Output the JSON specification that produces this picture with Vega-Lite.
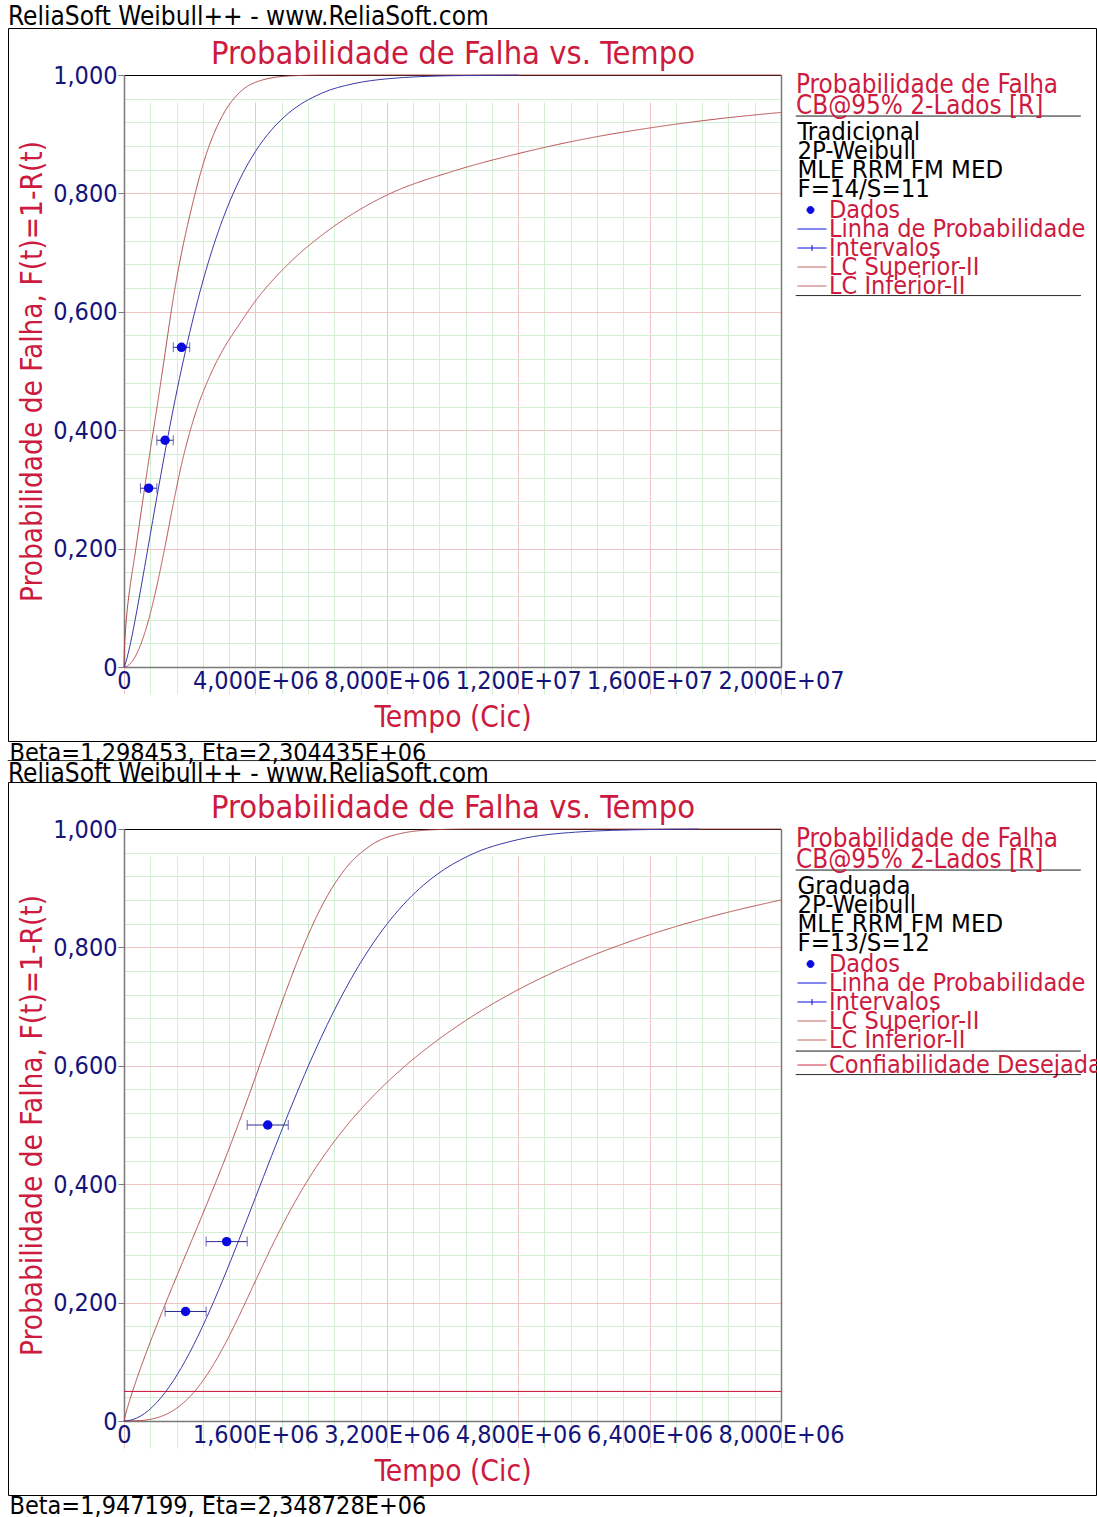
{
"$schema": "https://vega.github.io/schema/vega-lite/v6.json",
"padding": {"left": 7, "top": 3, "right": 0, "bottom": 0},
"background": "white",
"config": {
  "view": {"stroke": "#000000", "strokeWidth": 1},
  "font": "DejaVu Sans Condensed",
  "axis": {"labelFont": "DejaVu Sans Condensed", "titleFont": "DejaVu Sans Condensed", "titleFontWeight": "normal"},
  "legend": {"labelFont": "DejaVu Sans Condensed", "titleFont": "DejaVu Sans Condensed"},
  "title": {"font": "DejaVu Sans Condensed", "fontWeight": "normal", "fontSize": 26, "color": "#000000"}
},
"datasets": {
  "p1_bounds": [
    {"series": "LC Superior-II", "t": 0, "F": 0},
    {"series": "LC Superior-II", "t": 5000, "F": 0.0171},
    {"series": "LC Superior-II", "t": 20000, "F": 0.0386},
    {"series": "LC Superior-II", "t": 50000, "F": 0.0656},
    {"series": "LC Superior-II", "t": 100000, "F": 0.0969},
    {"series": "LC Superior-II", "t": 200000, "F": 0.142},
    {"series": "LC Superior-II", "t": 300000, "F": 0.1776},
    {"series": "LC Superior-II", "t": 500000, "F": 0.2537},
    {"series": "LC Superior-II", "t": 750000, "F": 0.348},
    {"series": "LC Superior-II", "t": 1000000, "F": 0.437},
    {"series": "LC Superior-II", "t": 1250000, "F": 0.53},
    {"series": "LC Superior-II", "t": 1500000, "F": 0.623},
    {"series": "LC Superior-II", "t": 1750000, "F": 0.699},
    {"series": "LC Superior-II", "t": 2000000, "F": 0.762},
    {"series": "LC Superior-II", "t": 2500000, "F": 0.8655},
    {"series": "LC Superior-II", "t": 3000000, "F": 0.9316},
    {"series": "LC Superior-II", "t": 3500000, "F": 0.9694},
    {"series": "LC Superior-II", "t": 4000000, "F": 0.9876},
    {"series": "LC Superior-II", "t": 5000000, "F": 0.9983},
    {"series": "LC Superior-II", "t": 6000000, "F": 0.9998},
    {"series": "LC Superior-II", "t": 8000000, "F": 1},
    {"series": "LC Superior-II", "t": 20000000, "F": 1},
    {"series": "LC Inferior-II", "t": 0, "F": 0},
    {"series": "LC Inferior-II", "t": 100000, "F": 0.0016},
    {"series": "LC Inferior-II", "t": 250000, "F": 0.0095},
    {"series": "LC Inferior-II", "t": 500000, "F": 0.0368},
    {"series": "LC Inferior-II", "t": 750000, "F": 0.08},
    {"series": "LC Inferior-II", "t": 1000000, "F": 0.137},
    {"series": "LC Inferior-II", "t": 1250000, "F": 0.204},
    {"series": "LC Inferior-II", "t": 1500000, "F": 0.2756},
    {"series": "LC Inferior-II", "t": 1750000, "F": 0.342},
    {"series": "LC Inferior-II", "t": 2000000, "F": 0.396},
    {"series": "LC Inferior-II", "t": 2250000, "F": 0.441},
    {"series": "LC Inferior-II", "t": 2500000, "F": 0.477},
    {"series": "LC Inferior-II", "t": 2750000, "F": 0.508},
    {"series": "LC Inferior-II", "t": 3000000, "F": 0.5345},
    {"series": "LC Inferior-II", "t": 3500000, "F": 0.578},
    {"series": "LC Inferior-II", "t": 4000000, "F": 0.6181},
    {"series": "LC Inferior-II", "t": 5000000, "F": 0.6806},
    {"series": "LC Inferior-II", "t": 6000000, "F": 0.7284},
    {"series": "LC Inferior-II", "t": 7000000, "F": 0.7667},
    {"series": "LC Inferior-II", "t": 8000000, "F": 0.7971},
    {"series": "LC Inferior-II", "t": 10000000, "F": 0.8372},
    {"series": "LC Inferior-II", "t": 12000000, "F": 0.8672},
    {"series": "LC Inferior-II", "t": 14000000, "F": 0.8917},
    {"series": "LC Inferior-II", "t": 16000000, "F": 0.9105},
    {"series": "LC Inferior-II", "t": 18000000, "F": 0.9254},
    {"series": "LC Inferior-II", "t": 20000000, "F": 0.9368}
  ],
  "p1_linha": [
    {"t": 0, "F": 0}, {"t": 50000, "F": 0.0069}, {"t": 100000, "F": 0.0169}, {"t": 200000, "F": 0.041},
    {"t": 300000, "F": 0.0683}, {"t": 500000, "F": 0.1285}, {"t": 750000, "F": 0.2078}, {"t": 1000000, "F": 0.287},
    {"t": 1250000, "F": 0.3636}, {"t": 1500000, "F": 0.4362}, {"t": 1750000, "F": 0.5033}, {"t": 2000000, "F": 0.5648},
    {"t": 2500000, "F": 0.671}, {"t": 3000000, "F": 0.7555}, {"t": 3500000, "F": 0.821}, {"t": 4000000, "F": 0.8708},
    {"t": 4500000, "F": 0.9079}, {"t": 5000000, "F": 0.9351}, {"t": 6000000, "F": 0.9688}, {"t": 7000000, "F": 0.9855},
    {"t": 8000000, "F": 0.9935}, {"t": 10000000, "F": 0.9988}, {"t": 12000000, "F": 0.9998}
  ],
  "p1_dados": [
    {"t": 750000, "F": 0.302, "lo": 500000, "hi": 1000000},
    {"t": 1250000, "F": 0.383, "lo": 1000000, "hi": 1500000},
    {"t": 1750000, "F": 0.54, "lo": 1500000, "hi": 2000000}
  ],
  "p2_bounds": [
    {"series": "LC Superior-II", "t": 0, "F": 0},
    {"series": "LC Superior-II", "t": 20000, "F": 0.0116},
    {"series": "LC Superior-II", "t": 50000, "F": 0.0261},
    {"series": "LC Superior-II", "t": 100000, "F": 0.0482},
    {"series": "LC Superior-II", "t": 200000, "F": 0.0887},
    {"series": "LC Superior-II", "t": 300000, "F": 0.1262},
    {"series": "LC Superior-II", "t": 400000, "F": 0.162},
    {"series": "LC Superior-II", "t": 600000, "F": 0.2305},
    {"series": "LC Superior-II", "t": 800000, "F": 0.2969},
    {"series": "LC Superior-II", "t": 1000000, "F": 0.3634},
    {"series": "LC Superior-II", "t": 1200000, "F": 0.432},
    {"series": "LC Superior-II", "t": 1400000, "F": 0.5043},
    {"series": "LC Superior-II", "t": 1600000, "F": 0.5806},
    {"series": "LC Superior-II", "t": 1800000, "F": 0.6592},
    {"series": "LC Superior-II", "t": 2000000, "F": 0.7363},
    {"series": "LC Superior-II", "t": 2200000, "F": 0.8072},
    {"series": "LC Superior-II", "t": 2400000, "F": 0.8675},
    {"series": "LC Superior-II", "t": 2700000, "F": 0.9336},
    {"series": "LC Superior-II", "t": 3000000, "F": 0.9718},
    {"series": "LC Superior-II", "t": 3400000, "F": 0.9933},
    {"series": "LC Superior-II", "t": 3800000, "F": 0.9989},
    {"series": "LC Superior-II", "t": 4200000, "F": 0.9999},
    {"series": "LC Superior-II", "t": 5000000, "F": 1},
    {"series": "LC Superior-II", "t": 8000000, "F": 1},
    {"series": "LC Inferior-II", "t": 0, "F": 0},
    {"series": "LC Inferior-II", "t": 200000, "F": 0.0007},
    {"series": "LC Inferior-II", "t": 300000, "F": 0.0023},
    {"series": "LC Inferior-II", "t": 400000, "F": 0.0054},
    {"series": "LC Inferior-II", "t": 600000, "F": 0.0178},
    {"series": "LC Inferior-II", "t": 800000, "F": 0.0408},
    {"series": "LC Inferior-II", "t": 1000000, "F": 0.0758},
    {"series": "LC Inferior-II", "t": 1200000, "F": 0.1222},
    {"series": "LC Inferior-II", "t": 1400000, "F": 0.1772},
    {"series": "LC Inferior-II", "t": 1600000, "F": 0.2364},
    {"series": "LC Inferior-II", "t": 1800000, "F": 0.295},
    {"series": "LC Inferior-II", "t": 2000000, "F": 0.3494},
    {"series": "LC Inferior-II", "t": 2200000, "F": 0.3982},
    {"series": "LC Inferior-II", "t": 2400000, "F": 0.4413},
    {"series": "LC Inferior-II", "t": 2700000, "F": 0.4969},
    {"series": "LC Inferior-II", "t": 3000000, "F": 0.5439},
    {"series": "LC Inferior-II", "t": 3400000, "F": 0.5969},
    {"series": "LC Inferior-II", "t": 3800000, "F": 0.6415},
    {"series": "LC Inferior-II", "t": 4200000, "F": 0.68},
    {"series": "LC Inferior-II", "t": 4800000, "F": 0.7286},
    {"series": "LC Inferior-II", "t": 5500000, "F": 0.7746},
    {"series": "LC Inferior-II", "t": 6400000, "F": 0.8213},
    {"series": "LC Inferior-II", "t": 7200000, "F": 0.8539},
    {"series": "LC Inferior-II", "t": 8000000, "F": 0.8801},
    {"series": "Confiabilidade Desejada", "t": 0, "F": 0.05},
    {"series": "Confiabilidade Desejada", "t": 8000000, "F": 0.05}
  ],
  "p2_linha": [
    {"t": 0, "F": 0}, {"t": 100000, "F": 0.0021}, {"t": 200000, "F": 0.0082}, {"t": 300000, "F": 0.018},
    {"t": 400000, "F": 0.0314}, {"t": 600000, "F": 0.0678}, {"t": 800000, "F": 0.1156}, {"t": 1000000, "F": 0.1728},
    {"t": 1200000, "F": 0.237}, {"t": 1400000, "F": 0.306}, {"t": 1600000, "F": 0.3773}, {"t": 1800000, "F": 0.4488},
    {"t": 2000000, "F": 0.5187}, {"t": 2200000, "F": 0.5855}, {"t": 2400000, "F": 0.6477}, {"t": 2700000, "F": 0.7307},
    {"t": 3000000, "F": 0.8002}, {"t": 3400000, "F": 0.872}, {"t": 3800000, "F": 0.9221}, {"t": 4200000, "F": 0.955},
    {"t": 4800000, "F": 0.9821}, {"t": 5500000, "F": 0.9947}, {"t": 6400000, "F": 0.9991}, {"t": 7000000, "F": 0.9998}
  ],
  "p2_dados": [
    {"t": 750000, "F": 0.185, "lo": 500000, "hi": 1000000},
    {"t": 1250000, "F": 0.303, "lo": 1000000, "hi": 1500000},
    {"t": 1750000, "F": 0.5, "lo": 1500000, "hi": 2000000}
  ]
},
"spacing": -6,
"resolve": {"scale": {"color": "independent", "strokeDash": "independent", "opacity": "independent", "strokeWidth": "independent"}, "legend": {"color": "independent", "strokeDash": "independent", "opacity": "independent", "strokeWidth": "independent"}},
"vconcat": [
  {
    "width": 1088, "height": 713,
    "title": {"text": "ReliaSoft Weibull++ - www.ReliaSoft.com", "anchor": "start", "frame": "group", "offset": -2},
    "resolve": {"axis": {"x": "independent", "y": "independent"}},
    "layer": [
      {
        "data": {"name": "p1_bounds"},
        "mark": {"type": "line", "interpolate": "monotone", "strokeWidth": 1},
        "encoding": {
          "x": {"field": "t", "type": "quantitative", "scale": {"domain": [0, 20000000], "range": [116, 773], "nice": false, "zero": false},
                "axis": {"orient": "top", "offset": -47, "domain": true, "domainColor": "#000000", "domainWidth": 1, "ticks": false, "labels": false, "grid": false,
                         "title": "Probabilidade de Falha vs. Tempo", "titleColor": "#CC1B3F", "titleFontSize": 32.4, "titlePadding": 5}},
          "y": {"field": "F", "type": "quantitative", "scale": {"domain": [0, 1], "range": [639, 47], "nice": false, "zero": false},
                "axis": {"orient": "right", "offset": -315, "domain": true, "domainColor": "#7A7A7A", "domainWidth": 1.5, "ticks": false, "labels": false, "grid": false, "title": null}},
          "color": {"field": "series", "type": "nominal",
                    "scale": {"domain": ["Dados", "Linha de Probabilidade", "Intervalos", "LC Superior-II", "LC Inferior-II"],
                              "range": ["#0A0AE0", "#3A3AA8", "#2C2C90", "#B04848", "#B85050"]},
                    "legend": {"orient": "none", "legendX": 788, "legendY": 169.5, "direction": "vertical", "title": null, "padding": 0, "values": ["Dados"],
                               "labelExpr": "['Dados', 'Linha de Probabilidade', 'Intervalos', 'LC Superior-II', 'LC Inferior-II']",
                               "labelFontSize": 25, "labelColor": "#CC1B3F", "labelLimit": 600, "labelOffset": 8,
                               "symbolSize": 4, "symbolStrokeWidth": 1,
                               "encode": {"labels": {"update": {"lineHeight": {"value": 19}}},
                                          "symbols": {"update": {
                                 "shape": {"value": "M-1.5,0a3.5,3.5 0 1,0 7,0a3.5,3.5 0 1,0 -7,0ZM-11,19H18M-11,38H18M3.5,35V41"},
                                 "size": {"value": 4}, "fill": {"value": "#0A0AE0"}, "stroke": {"value": "#2C2C90"}, "strokeWidth": {"value": 1}, "opacity": {"value": 1}}}}}},
          "strokeDash": {"datum": "LC", "type": "nominal", "scale": {"domain": ["LC"], "range": [[1, 0]]},
                    "legend": {"orient": "none", "legendX": 788, "legendY": 169.5, "direction": "vertical", "title": null, "padding": 0,
                               "labelExpr": "['Dados', 'Linha de Probabilidade', 'Intervalos', 'LC Superior-II', 'LC Inferior-II']",
                               "labelFontSize": 25, "labelColor": "#CC1B3F", "labelOpacity": 0, "labelLimit": 600, "labelOffset": 8,
                               "symbolSize": 4, "symbolStrokeWidth": 1,
                               "encode": {"labels": {"update": {"lineHeight": {"value": 19}, "opacity": {"value": 0}}},
                                          "symbols": {"update": {
                                 "shape": {"value": "M-11,57H18M-11,76H18"},
                                 "size": {"value": 4}, "fill": {"value": "transparent"}, "stroke": {"value": "#B85050"}, "strokeWidth": {"value": 1}, "strokeDash": {"value": [1, 0]}, "opacity": {"value": 1}}}}}},
          "opacity": {"datum": "Tradicional", "type": "nominal", "scale": {"domain": ["Tradicional"], "range": [1, 1]},
                    "legend": {"orient": "none", "legendX": 788, "legendY": 45, "direction": "vertical", "padding": 0,
                               "title": ["Probabilidade de Falha", "CB@95% 2-Lados [R]"], "titleColor": "#CC1B3F", "titleFontSize": 25.8, "titleFontWeight": "normal",
                               "titleLineHeight": 20.5, "titlePadding": 0, "titleLimit": 600,
                               "labelExpr": "['Tradicional', '2P-Weibull', 'MLE RRM FM MED', 'F=14/S=11']",
                               "labelColor": "#000000", "labelFontSize": 25.5, "labelLimit": 600, "labelOffset": -24,
                               "symbolSize": 4, "symbolStrokeWidth": 1,
                               "encode": {"labels": {"update": {"lineHeight": {"value": 19}}},
                                          "symbols": {"update": {
                                 "shape": {"value": "M-13,-16H272M-13,163.5H272M-801,628.5H287"},
                                 "size": {"value": 4}, "fill": {"value": "transparent"}, "stroke": {"value": "#000000"}, "strokeWidth": {"value": 1}, "strokeDash": {"value": [1, 0]}, "opacity": {"value": 1}}}}}}
        }
      },
      {
        "data": {"name": "p1_linha"},
        "mark": {"type": "line", "interpolate": "monotone", "color": "#3A3AA8", "strokeWidth": 1},
        "encoding": {
          "x": {"field": "t", "type": "quantitative",
                "axis": {"orient": "bottom", "offset": 0, "domain": false, "ticks": false, "labels": false, "grid": false,
                         "title": "Beta=1,298453, Eta=2,304435E+06", "titleX": 1, "titleY": -1, "titleAlign": "left", "titleBaseline": "top", "titleAngle": 0,
                         "titleColor": "#000000", "titleFontSize": 25}},
          "y": {"field": "F", "type": "quantitative", "axis": null}
        }
      },
      {
        "data": {"name": "p1_dados"},
        "mark": {"type": "errorbar", "ticks": {"size": 10}, "color": "#2C2C90", "thickness": 1},
        "encoding": {
          "x": {"field": "lo", "type": "quantitative", "axis": null},
          "x2": {"field": "hi"},
          "y": {"field": "F", "type": "quantitative", "axis": null}
        }
      },
      {
        "data": {"name": "p1_dados"},
        "mark": {"type": "point", "filled": true, "size": 90, "color": "#0A0AE0", "opacity": 1},
        "encoding": {
          "x": {"field": "t", "type": "quantitative",
                "axis": {"orient": "bottom", "offset": -74,
                         "values": [0,800000,1600000,2400000,3200000,4000000,4800000,5600000,6400000,7200000,8000000,8800000,9600000,10400000,11200000,12000000,12800000,13600000,14400000,15200000,16000000,16800000,17600000,18400000,19200000,20000000],
                         "grid": true, "gridWidth": 1,
                         "gridColor": {"condition": {"test": "datum.value % 4000000 === 0", "value": "#F0C4C4"}, "value": "#D4F0D4"},
                         "domainColor": "#7A7A7A", "domainWidth": 1.5, "ticks": false,
                         "labelExpr": "datum.value % 4000000 !== 0 ? '' : datum.value === 0 ? '0' : replace(format(datum.value / pow(10, floor(log(datum.value) / LN10 + 1e-9)), '.3f'), '.', ',') + 'E+' + format(floor(log(datum.value) / LN10 + 1e-9), '02d')",
                         "labelFontSize": 25, "labelColor": "#14147A", "labelPadding": 1, "labelFlush": false, "labelOverlap": false, "labelBound": false,
                         "title": "Tempo (Cic)", "titleColor": "#CC1B3F", "titleFontSize": 29.7, "titlePadding": 10}},
          "y": {"field": "F", "type": "quantitative",
                "axis": {"orient": "left", "offset": -116,
                         "values": [0,0.04,0.08,0.12,0.16,0.2,0.24,0.28,0.32,0.36,0.4,0.44,0.48,0.52,0.56,0.6,0.64,0.68,0.72,0.76,0.8,0.84,0.88,0.92,0.96,1],
                         "grid": true, "gridWidth": 1,
                         "gridColor": {"condition": {"test": "abs(datum.value * 5 - round(datum.value * 5)) < 0.000001", "value": "#F0C4C4"}, "value": "#D4F0D4"},
                         "domainColor": "#7A7A7A", "domainWidth": 1.5, "ticks": true, "tickSize": 6, "tickColor": "#7A7A7A",
                         "tickOpacity": {"condition": {"test": "abs(datum.value * 5 - round(datum.value * 5)) < 0.000001", "value": 1}, "value": 0},
                         "labelExpr": "abs(datum.value * 5 - round(datum.value * 5)) > 0.000001 ? '' : datum.value === 0 ? '0' : replace(format(datum.value, '.3f'), '.', ',')",
                         "labelFontSize": 25, "labelColor": "#14147A", "labelPadding": 1, "labelOverlap": false,
                         "title": "Probabilidade de Falha, F(t)=1-R(t)", "titleColor": "#CC1B3F", "titleFontSize": 29.5, "titlePadding": 5}}
        }
      }
    ]
  },
  {
    "width": 1088, "height": 713,
    "title": {"text": "ReliaSoft Weibull++ - www.ReliaSoft.com", "anchor": "start", "frame": "group", "offset": -5},
    "resolve": {"axis": {"x": "independent", "y": "independent"}},
    "layer": [
      {
        "data": {"name": "p2_bounds"},
        "mark": {"type": "line", "interpolate": "monotone", "strokeWidth": 1},
        "encoding": {
          "x": {"field": "t", "type": "quantitative", "scale": {"domain": [0, 8000000], "range": [116, 773], "nice": false, "zero": false},
                "axis": {"orient": "top", "offset": -47, "domain": true, "domainColor": "#000000", "domainWidth": 1, "ticks": false, "labels": false, "grid": false,
                         "title": "Probabilidade de Falha vs. Tempo", "titleColor": "#CC1B3F", "titleFontSize": 32.4, "titlePadding": 5}},
          "y": {"field": "F", "type": "quantitative", "scale": {"domain": [0, 1], "range": [639, 47], "nice": false, "zero": false},
                "axis": {"orient": "right", "offset": -315, "domain": true, "domainColor": "#7A7A7A", "domainWidth": 1.5, "ticks": false, "labels": false, "grid": false, "title": null}},
          "color": {"field": "series", "type": "nominal",
                    "scale": {"domain": ["Dados", "Linha de Probabilidade", "Intervalos", "LC Superior-II", "LC Inferior-II", "Confiabilidade Desejada"],
                              "range": ["#0A0AE0", "#3A3AA8", "#2C2C90", "#B04848", "#B85050", "#C8102E"]},
                    "legend": {"orient": "none", "legendX": 788, "legendY": 169.5, "direction": "vertical", "title": null, "padding": 0, "values": ["Dados"],
                               "labelExpr": "['Dados', 'Linha de Probabilidade', 'Intervalos', 'LC Superior-II', 'LC Inferior-II']",
                               "labelFontSize": 25, "labelColor": "#CC1B3F", "labelLimit": 600, "labelOffset": 8,
                               "symbolSize": 4, "symbolStrokeWidth": 1,
                               "encode": {"labels": {"update": {"lineHeight": {"value": 19}}},
                                          "symbols": {"update": {
                                 "shape": {"value": "M-1.5,0a3.5,3.5 0 1,0 7,0a3.5,3.5 0 1,0 -7,0ZM-11,19H18M-11,38H18M3.5,35V41"},
                                 "size": {"value": 4}, "fill": {"value": "#0A0AE0"}, "stroke": {"value": "#2C2C90"}, "strokeWidth": {"value": 1}, "opacity": {"value": 1}}}}}},
          "strokeDash": {"datum": "LC", "type": "nominal", "scale": {"domain": ["LC"], "range": [[1, 0]]},
                    "legend": {"orient": "none", "legendX": 788, "legendY": 169.5, "direction": "vertical", "title": null, "padding": 0,
                               "labelExpr": "['Dados', 'Linha de Probabilidade', 'Intervalos', 'LC Superior-II', 'LC Inferior-II']",
                               "labelFontSize": 25, "labelColor": "#CC1B3F", "labelOpacity": 0, "labelLimit": 600, "labelOffset": 8,
                               "symbolSize": 4, "symbolStrokeWidth": 1,
                               "encode": {"labels": {"update": {"lineHeight": {"value": 19}, "opacity": {"value": 0}}},
                                          "symbols": {"update": {
                                 "shape": {"value": "M-11,57H18M-11,76H18"},
                                 "size": {"value": 4}, "fill": {"value": "transparent"}, "stroke": {"value": "#B85050"}, "strokeWidth": {"value": 1}, "strokeDash": {"value": [1, 0]}, "opacity": {"value": 1}}}}}},
          "strokeWidth": {"datum": "Conf", "type": "nominal", "scale": {"domain": ["Conf"], "range": [1, 1]},
                    "legend": {"orient": "none", "legendX": 788, "legendY": 270.5, "direction": "vertical", "title": null, "padding": 0,
                               "labelExpr": "'Confiabilidade Desejada'",
                               "labelFontSize": 25, "labelColor": "#CC1B3F", "labelLimit": 600, "labelOffset": 8,
                               "symbolSize": 4, "symbolStrokeWidth": 1,
                               "encode": {"symbols": {"update": {
                                 "shape": {"value": "M-11,0H18"},
                                 "size": {"value": 4}, "fill": {"value": "transparent"}, "stroke": {"value": "#C8102E"}, "strokeWidth": {"value": 1}, "strokeDash": {"value": [1, 0]}, "opacity": {"value": 1}}}}}},
          "opacity": {"datum": "Graduada", "type": "nominal", "scale": {"domain": ["Graduada"], "range": [1, 1]},
                    "legend": {"orient": "none", "legendX": 788, "legendY": 45, "direction": "vertical", "padding": 0,
                               "title": ["Probabilidade de Falha", "CB@95% 2-Lados [R]"], "titleColor": "#CC1B3F", "titleFontSize": 25.8, "titleFontWeight": "normal",
                               "titleLineHeight": 20.5, "titlePadding": 0, "titleLimit": 600,
                               "labelExpr": "['Graduada', '2P-Weibull', 'MLE RRM FM MED', 'F=13/S=12']",
                               "labelColor": "#000000", "labelFontSize": 25.5, "labelLimit": 600, "labelOffset": -24,
                               "symbolSize": 4, "symbolStrokeWidth": 1,
                               "encode": {"labels": {"update": {"lineHeight": {"value": 19}}},
                                          "symbols": {"update": {
                                 "shape": {"value": "M-13,-16H272M-13,165H272M-13,188.5H272"},
                                 "size": {"value": 4}, "fill": {"value": "transparent"}, "stroke": {"value": "#000000"}, "strokeWidth": {"value": 1}, "strokeDash": {"value": [1, 0]}, "opacity": {"value": 1}}}}}}
        }
      },
      {
        "data": {"name": "p2_linha"},
        "mark": {"type": "line", "interpolate": "monotone", "color": "#3A3AA8", "strokeWidth": 1},
        "encoding": {
          "x": {"field": "t", "type": "quantitative",
                "axis": {"orient": "bottom", "offset": 0, "domain": false, "ticks": false, "labels": false, "grid": false,
                         "title": "Beta=1,947199, Eta=2,348728E+06", "titleX": 1, "titleY": -2, "titleAlign": "left", "titleBaseline": "top", "titleAngle": 0,
                         "titleColor": "#000000", "titleFontSize": 25}},
          "y": {"field": "F", "type": "quantitative", "axis": null}
        }
      },
      {
        "data": {"name": "p2_dados"},
        "mark": {"type": "errorbar", "ticks": {"size": 10}, "color": "#2C2C90", "thickness": 1},
        "encoding": {
          "x": {"field": "lo", "type": "quantitative", "axis": null},
          "x2": {"field": "hi"},
          "y": {"field": "F", "type": "quantitative", "axis": null}
        }
      },
      {
        "data": {"name": "p2_dados"},
        "mark": {"type": "point", "filled": true, "size": 90, "color": "#0A0AE0", "opacity": 1},
        "encoding": {
          "x": {"field": "t", "type": "quantitative",
                "axis": {"orient": "bottom", "offset": -74,
                         "values": [0,320000,640000,960000,1280000,1600000,1920000,2240000,2560000,2880000,3200000,3520000,3840000,4160000,4480000,4800000,5120000,5440000,5760000,6080000,6400000,6720000,7040000,7360000,7680000,8000000],
                         "grid": true, "gridWidth": 1,
                         "gridColor": {"condition": {"test": "datum.value % 1600000 === 0", "value": "#F0C4C4"}, "value": "#D4F0D4"},
                         "domainColor": "#7A7A7A", "domainWidth": 1.5, "ticks": false,
                         "labelExpr": "datum.value % 1600000 !== 0 ? '' : datum.value === 0 ? '0' : replace(format(datum.value / pow(10, floor(log(datum.value) / LN10 + 1e-9)), '.3f'), '.', ',') + 'E+' + format(floor(log(datum.value) / LN10 + 1e-9), '02d')",
                         "labelFontSize": 25, "labelColor": "#14147A", "labelPadding": 1, "labelFlush": false, "labelOverlap": false, "labelBound": false,
                         "title": "Tempo (Cic)", "titleColor": "#CC1B3F", "titleFontSize": 29.7, "titlePadding": 10}},
          "y": {"field": "F", "type": "quantitative",
                "axis": {"orient": "left", "offset": -116,
                         "values": [0,0.04,0.08,0.12,0.16,0.2,0.24,0.28,0.32,0.36,0.4,0.44,0.48,0.52,0.56,0.6,0.64,0.68,0.72,0.76,0.8,0.84,0.88,0.92,0.96,1],
                         "grid": true, "gridWidth": 1,
                         "gridColor": {"condition": {"test": "abs(datum.value * 5 - round(datum.value * 5)) < 0.000001", "value": "#F0C4C4"}, "value": "#D4F0D4"},
                         "domainColor": "#7A7A7A", "domainWidth": 1.5, "ticks": true, "tickSize": 6, "tickColor": "#7A7A7A",
                         "tickOpacity": {"condition": {"test": "abs(datum.value * 5 - round(datum.value * 5)) < 0.000001", "value": 1}, "value": 0},
                         "labelExpr": "abs(datum.value * 5 - round(datum.value * 5)) > 0.000001 ? '' : datum.value === 0 ? '0' : replace(format(datum.value, '.3f'), '.', ',')",
                         "labelFontSize": 25, "labelColor": "#14147A", "labelPadding": 1, "labelOverlap": false,
                         "title": "Probabilidade de Falha, F(t)=1-R(t)", "titleColor": "#CC1B3F", "titleFontSize": 29.5, "titlePadding": 5}}
        }
      }
    ]
  }
]
}
